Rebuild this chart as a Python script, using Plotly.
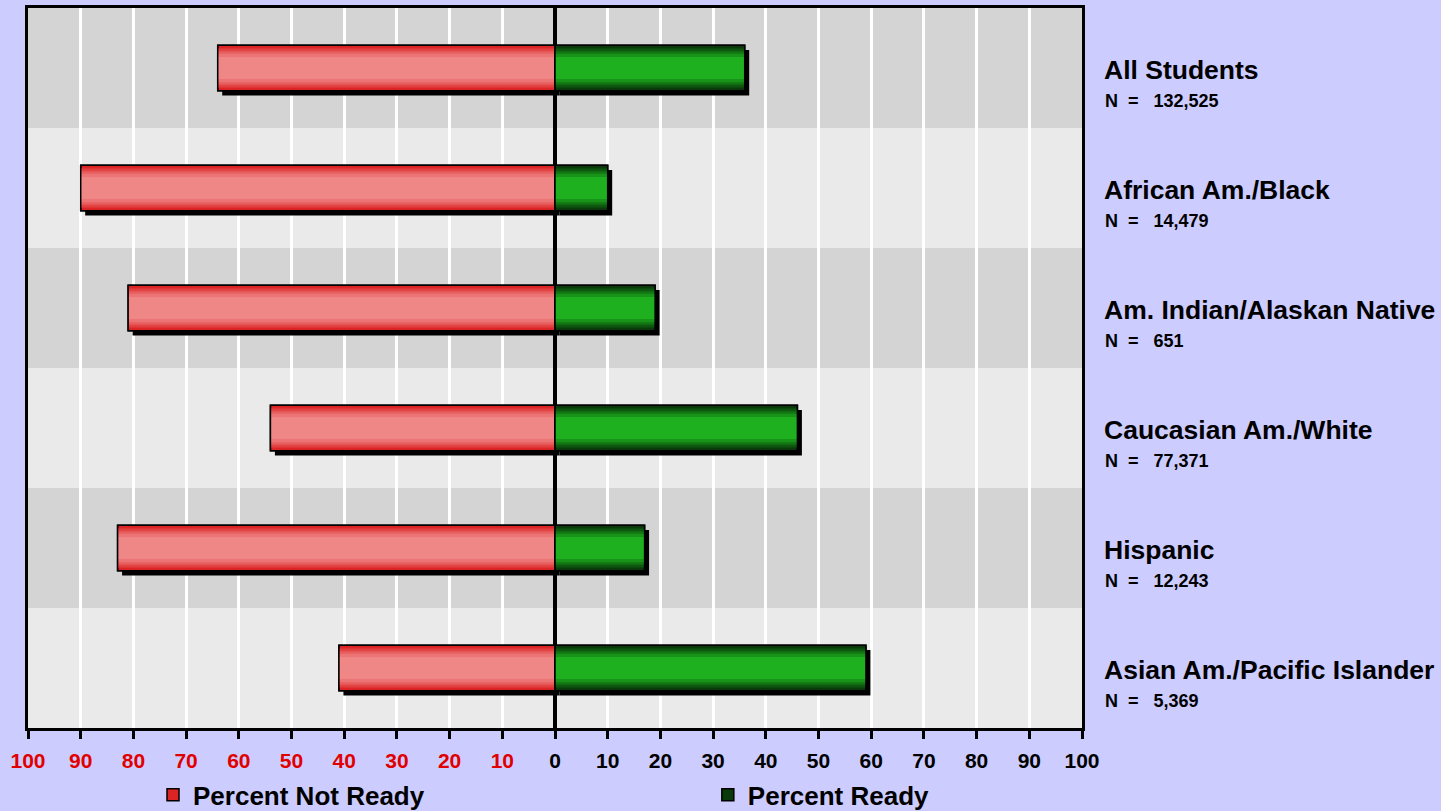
import plotly.graph_objects as go

# ---- data -------------------------------------------------------------
groups = [
    "All Students",
    "African Am./Black",
    "Am. Indian/Alaskan Native",
    "Caucasian Am./White",
    "Hispanic",
    "Asian Am./Pacific Islander",
]
group_n = ["132,525", "14,479", "651", "77,371", "12,243", "5,369"]
pct_not_ready = [64, 90, 81, 54, 83, 41]
pct_ready = [36, 10, 19, 46, 17, 59]

tick_values = [-100, -90, -80, -70, -60, -50, -40, -30, -20, -10,
               0, 10, 20, 30, 40, 50, 60, 70, 80, 90, 100]
tick_labels = ["100", "90", "80", "70", "60", "50", "40", "30", "20", "10",
               "0", "10", "20", "30", "40", "50", "60", "70", "80", "90", "100"]

# ---- styling ----------------------------------------------------------
FONT = "Liberation Sans, Arial, sans-serif"
PAGE_BG = "#CCCCFF"
ROW_DARK = "#D4D4D4"
ROW_LIGHT = "#EAEAEA"
NEG_TICK_COLOR = "#E00000"

BAR_W = 0.38          # bar thickness in category units
SHADOW_DX = 0.85      # drop-shadow shift along x (percent units)
SHADOW_DY = 0.04      # drop-shadow shift along y (category units)

# colour bands from the bar edge to its centre (colour, relative thickness)
red_bands = [("#DC2424", 1.00), ("#E24242", 0.86), ("#E75E5E", 0.74),
             ("#EC7474", 0.62), ("#F08787", 0.48)]
green_bands = [("#0A3A0A", 1.00), ("#0E570E", 0.86), ("#137513", 0.74),
               ("#189418", 0.62), ("#1EB01E", 0.48)]

pos = list(range(len(groups)))
neg_values = [-v for v in pct_not_ready]

fig = go.Figure()


def add_series(values, bands, name, legend_id):
    # black drop shadow
    fig.add_trace(go.Bar(
        y=pos, x=values, base=SHADOW_DX, orientation="h",
        width=BAR_W, offset=-BAR_W / 2 + SHADOW_DY,
        marker=dict(color="black", line=dict(width=0)),
        showlegend=False, hoverinfo="skip",
    ))
    # shaded body, outer band first
    for i, (color, frac) in enumerate(bands):
        w = BAR_W * frac
        fig.add_trace(go.Bar(
            y=pos, x=values, orientation="h",
            width=w, offset=-w / 2,
            marker=dict(color=color,
                        line=dict(color="black", width=1.5 if i == 0 else 0)),
            name=name, showlegend=(i == 0), legend=legend_id,
            hoverinfo="skip" if i else "x+y",
        ))
    # crisp outline on top
    fig.add_trace(go.Bar(
        y=pos, x=values, orientation="h",
        width=BAR_W, offset=-BAR_W / 2,
        marker=dict(color="rgba(0,0,0,0)", line=dict(color="black", width=1.5)),
        showlegend=False, hoverinfo="skip",
    ))


add_series(neg_values, red_bands, "Percent Not Ready", "legend")
add_series(pct_ready, green_bands, "Percent Ready", "legend2")

# alternating row bands behind the grid
shapes = []
for i in pos:
    shapes.append(dict(
        type="rect", xref="paper", x0=0, x1=1, yref="y",
        y0=i - 0.5, y1=i + 0.5, layer="below",
        fillcolor=ROW_DARK if i % 2 == 0 else ROW_LIGHT, line=dict(width=0),
    ))

# group names and counts to the right of the plot
annotations = []
for i, (g, n) in enumerate(zip(groups, group_n)):
    annotations.append(dict(
        x=1.019, xref="paper", y=i, yref="y", yshift=-2,
        text=g, showarrow=False, xanchor="left", yanchor="middle",
        font=dict(family=FONT, size=26.5, color="black", weight="bold"),
    ))
    annotations.append(dict(
        x=1.020, xref="paper", y=i, yref="y", yshift=-33,
        text="N&nbsp;&nbsp;=&nbsp;&nbsp;&nbsp;" + n, showarrow=False,
        xanchor="left", yanchor="middle",
        font=dict(family=FONT, size=18, color="black", weight="bold"),
    ))

tick_text = [
    f'<span style="color:{NEG_TICK_COLOR}">{t}</span>' if v < 0 else t
    for v, t in zip(tick_values, tick_labels)
]

legend_style = dict(
    orientation="h", xanchor="left", y=-0.093, yanchor="middle",
    bgcolor="rgba(0,0,0,0)", borderwidth=0,
    font=dict(family=FONT, size=26, color="black", weight="bold"),
)

fig.update_layout(
    width=1441, height=811,
    margin=dict(l=28, r=359, t=8, b=83, autoexpand=False),
    paper_bgcolor=PAGE_BG, plot_bgcolor=ROW_LIGHT,
    barmode="overlay",
    shapes=shapes, annotations=annotations,
    font=dict(family=FONT, color="black"),
    xaxis=dict(
        range=[-100, 100], tickvals=tick_values, ticktext=tick_text,
        showgrid=True, gridcolor="white", gridwidth=3,
        zeroline=True, zerolinecolor="black", zerolinewidth=4,
        showline=True, linecolor="black", linewidth=3, mirror=True,
        ticks="outside", ticklen=8, tickwidth=3, tickcolor="black",
        ticklabelstandoff=4,
        tickfont=dict(family=FONT, size=21, color="black", weight="bold"),
        fixedrange=True,
    ),
    yaxis=dict(
        range=[len(groups) - 0.5, -0.5], showticklabels=False,
        showgrid=False, zeroline=False,
        showline=True, linecolor="black", linewidth=3, mirror=True,
        ticks="", fixedrange=True,
    ),
    legend=dict(x=0.1186, **legend_style),
    legend2=dict(x=0.645, **legend_style),
)

fig.write_html("out.html")
